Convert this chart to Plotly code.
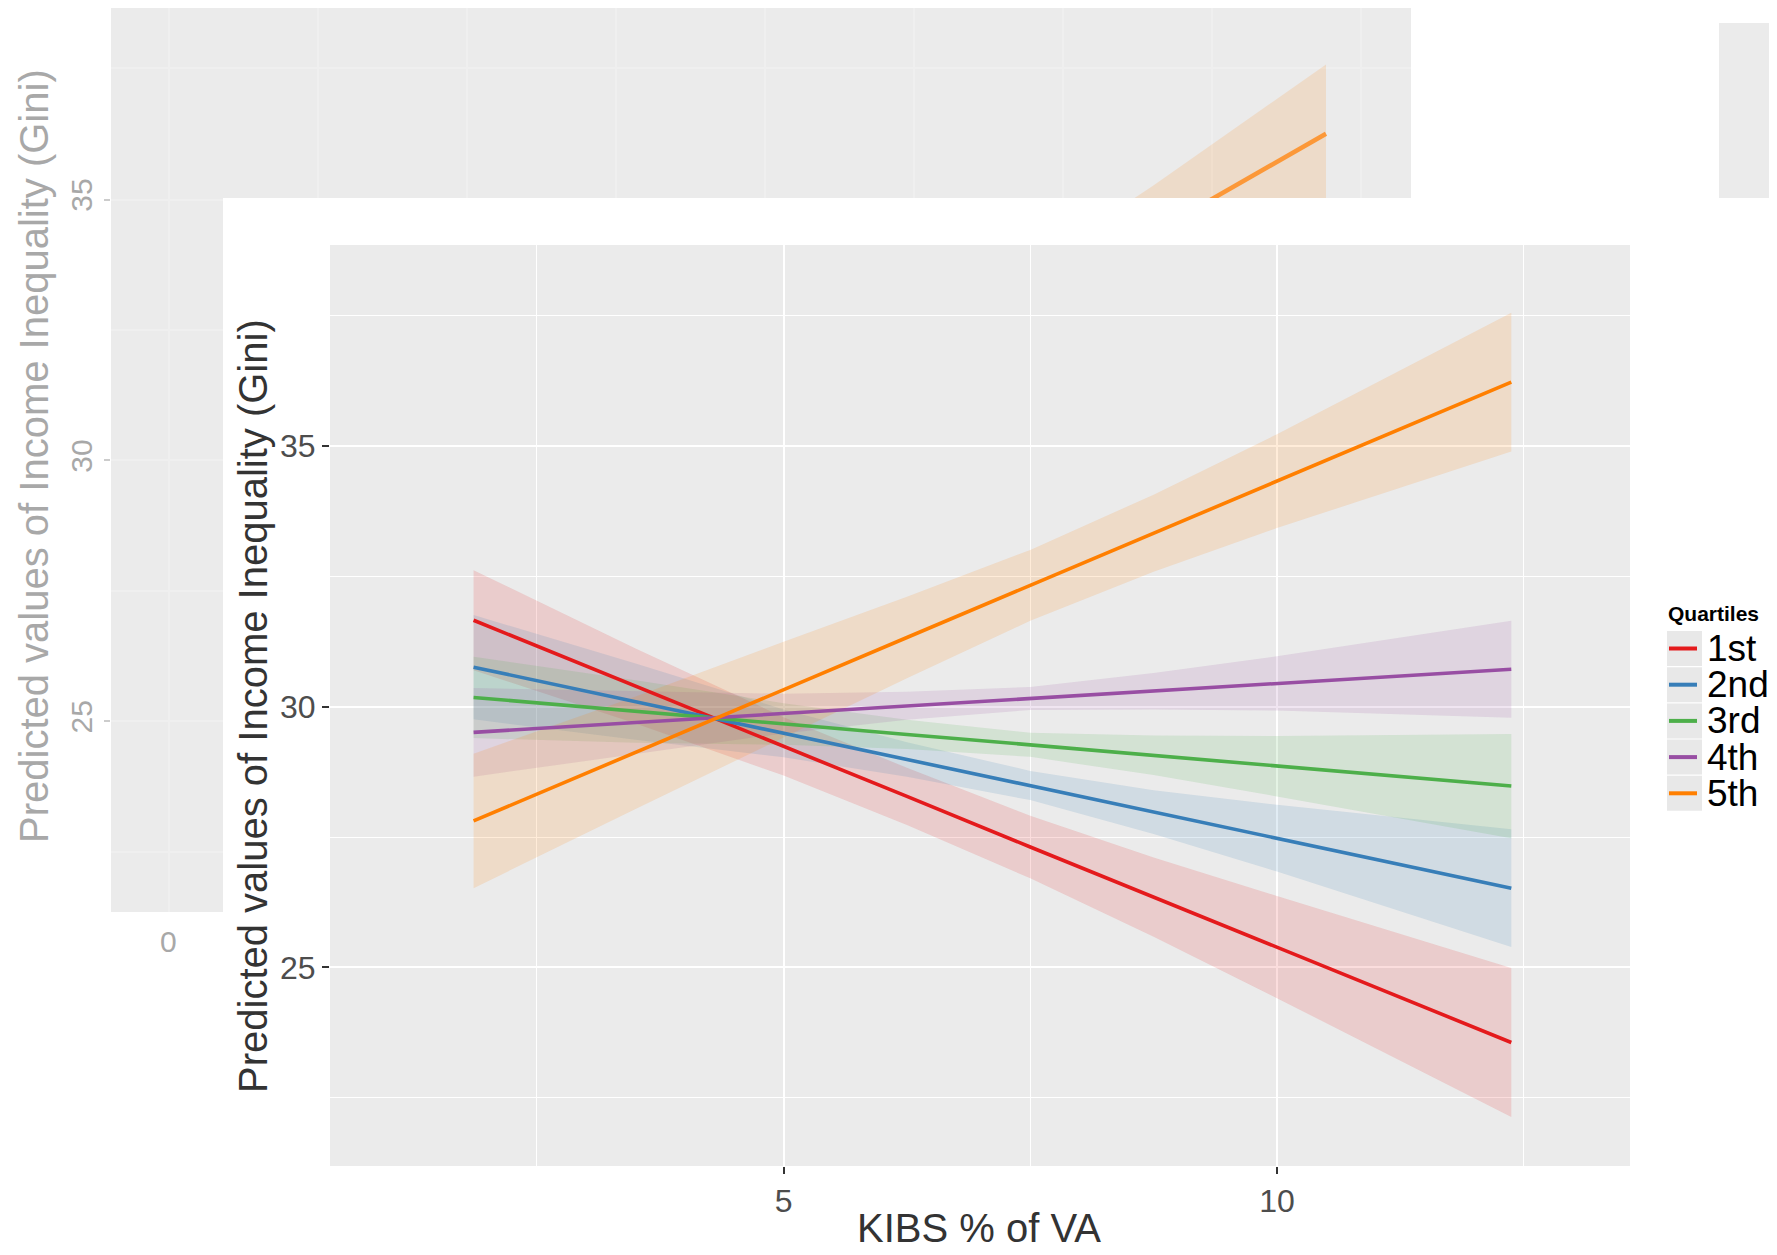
import plotly.graph_objects as go

# page body has an 8px margin; all pixel positions below are reference-image pixels
OFF = 8
W, H = 1777 - OFF, 1255 - OFF

# ---------------- data ----------------
x_pts = [1.858, 3.5, 5.0, 6.25, 7.5, 8.75, 10.0, 12.375]

series_names = ["1st", "2nd", "3rd", "4th", "5th"]
series_colors = ["#E41A1C", "#377EB8", "#4DAF4A", "#984EA3", "#FF7F00"]
series_fills = ["rgba(228,26,28,0.15)", "rgba(55,126,184,0.15)", "rgba(77,175,74,0.15)",
                "rgba(152,78,163,0.15)", "rgba(255,127,0,0.15)"]

fit_1st = [31.66, 30.40, 29.24, 28.28, 27.31, 26.35, 25.39, 23.56]
up_1st = [32.62, 31.12, 29.80, 28.83, 27.91, 27.11, 26.37, 24.99]
lo_1st = [30.70, 29.68, 28.68, 27.73, 26.71, 25.59, 24.41, 22.13]

fit_2nd = [30.76, 30.10, 29.49, 28.99, 28.49, 27.98, 27.48, 26.52]
up_2nd = [31.76, 30.83, 29.95, 29.32, 28.77, 28.40, 28.12, 27.65]
lo_2nd = [29.76, 29.37, 29.03, 28.66, 28.21, 27.56, 26.84, 25.39]

fit_3rd = [30.18, 29.91, 29.67, 29.47, 29.27, 29.07, 28.86, 28.48]
up_3rd = [30.96, 30.51, 30.07, 29.75, 29.50, 29.45, 29.44, 29.48]
lo_3rd = [29.40, 29.31, 29.27, 29.19, 29.04, 28.69, 28.28, 27.48]

fit_4th = [29.51, 29.70, 29.87, 30.02, 30.16, 30.30, 30.45, 30.72]
up_4th = [30.36, 30.30, 30.25, 30.29, 30.38, 30.65, 30.97, 31.65]
lo_4th = [28.66, 29.10, 29.49, 29.75, 29.94, 29.95, 29.93, 29.79]

fit_5th = [27.81, 29.12, 30.33, 31.33, 32.33, 33.33, 34.33, 36.23]
up_5th = [29.10, 30.20, 31.25, 32.11, 33.01, 34.07, 35.23, 37.56]
lo_5th = [26.52, 28.04, 29.41, 30.55, 31.65, 32.59, 33.43, 34.90]

fits = [fit_1st, fit_2nd, fit_3rd, fit_4th, fit_5th]
ups = [up_1st, up_2nd, up_3rd, up_4th, up_5th]
los = [lo_1st, lo_2nd, lo_3rd, lo_4th, lo_5th]

y_tick_vals = [25, 30, 35]
x_tick_vals = [5, 10]
x_title = "KIBS % of VA"
y_title = "Predicted values of Income Inequality (Gini)"
legend_title = "Quartiles"
bg_y_ticks = [25, 30, 35]
bg_x_tick_label = "0"

FONT = "Liberation Sans, Arial, sans-serif"


def px(xp):
    return min(1.0, max(0.0, (xp - OFF) / W))


def py(yp):
    return min(1.0, max(0.0, 1 - (yp - OFF) / H))


fig = go.Figure()

# ---------------- background (faded) chart pieces ----------------
fig.add_trace(go.Scatter(x=x_pts, y=lo_5th, mode="lines", line=dict(width=0, color=series_colors[4]),
                         xaxis="x2", yaxis="y2", showlegend=False, hoverinfo="skip"))
fig.add_trace(go.Scatter(x=x_pts, y=up_5th, mode="lines", line=dict(width=0, color=series_colors[4]),
                         fill="tonexty", fillcolor="rgba(255,127,0,0.14)",
                         xaxis="x2", yaxis="y2", showlegend=False, hoverinfo="skip"))
fig.add_trace(go.Scatter(x=x_pts, y=fit_5th, mode="lines", line=dict(width=4.5, color="rgba(255,135,20,0.8)"),
                         xaxis="x2", yaxis="y2", showlegend=False, hoverinfo="skip"))
# placeholder trace so the left strip subplot exists
fig.add_trace(go.Scatter(x=[None], y=[None], xaxis="x3", yaxis="y3", showlegend=False, hoverinfo="skip"))

# ---------------- main chart ----------------
for i in range(5):
    fig.add_trace(go.Scatter(x=x_pts, y=los[i], mode="lines", line=dict(width=0, color=series_colors[i]),
                             showlegend=False, hoverinfo="skip"))
    fig.add_trace(go.Scatter(x=x_pts, y=ups[i], mode="lines", line=dict(width=0, color=series_colors[i]),
                             fill="tonexty", fillcolor=series_fills[i], showlegend=False, hoverinfo="skip"))
for i in range(5):
    fig.add_trace(go.Scatter(x=x_pts, y=fits[i], mode="lines", name=series_names[i],
                             line=dict(width=3.6, color=series_colors[i]), showlegend=False))

# ---------------- layout ----------------
bg_px_per_unit = 73.0
bg_x_left = 12.375 - (1326 - 111) / bg_px_per_unit
bg_x_right_top = bg_x_left + (1411 - 111) / bg_px_per_unit
bg_x_right_left = bg_x_left + (223 - 111) / bg_px_per_unit
bg_tick0 = bg_x_left + (169 - 111) / bg_px_per_unit
bg_dtick = 149 / bg_px_per_unit
bg_y_px = 52.27

faint_grid = "#EFEFEF"

layout = dict(
    width=W, height=H,
    margin=dict(l=0, r=0, t=0, b=0, pad=0),
    paper_bgcolor="white",
    plot_bgcolor="#EBEBEB",
    showlegend=False,
    font=dict(family=FONT),
    xaxis=dict(
        domain=[px(330), px(1630)], anchor="y", range=[0.403, 13.578], automargin=False,
        tickmode="array", tickvals=x_tick_vals, ticks="outside", ticklen=7, tickwidth=1.5,
        tickcolor="#333333", tickfont=dict(size=32, color="#4D4D4D", family=FONT),
        showgrid=True, gridcolor="white", gridwidth=1.8, zeroline=False, showline=False,
        minor=dict(dtick=2.5, tick0=0, showgrid=True, gridcolor="white", gridwidth=0.9, ticks=""),
    ),
    yaxis=dict(
        domain=[py(1166), py(245)], anchor="x", range=[21.19, 38.86], automargin=False,
        tickmode="array", tickvals=y_tick_vals, ticks="outside", ticklen=7, tickwidth=1.5,
        tickcolor="#333333", tickfont=dict(size=32, color="#4D4D4D", family=FONT),
        showgrid=True, gridcolor="white", gridwidth=1.8, zeroline=False, showline=False,
        minor=dict(dtick=2.5, tick0=0, showgrid=True, gridcolor="white", gridwidth=0.9, ticks=""),
    ),
    xaxis2=dict(
        domain=[px(111), px(1411)], anchor="y2", range=[bg_x_left, bg_x_right_top], automargin=False,
        tick0=bg_tick0, dtick=bg_dtick, showticklabels=False, ticks="",
        showgrid=True, gridcolor=faint_grid, gridwidth=2, zeroline=False, showline=False,
    ),
    yaxis2=dict(
        domain=[py(198), 1.0], anchor="x2", automargin=False,
        range=[35.0, 35 + (198.3 - OFF) / bg_y_px],
        tick0=0, dtick=2.5, showticklabels=False, ticks="",
        showgrid=True, gridcolor=faint_grid, gridwidth=2, zeroline=False, showline=False,
    ),
    xaxis3=dict(
        domain=[px(111), px(223)], anchor="y3", range=[bg_x_left, bg_x_right_left], automargin=False,
        tick0=bg_tick0, dtick=bg_dtick, showticklabels=False, ticks="",
        showgrid=True, gridcolor=faint_grid, gridwidth=2, zeroline=False, showline=False,
    ),
    yaxis3=dict(
        domain=[py(912), py(198)], anchor="x3", automargin=False,
        range=[35 - (912 - 198.3) / bg_y_px, 35.03],
        tickmode="array", tickvals=bg_y_ticks, ticks="outside", ticklen=6, tickwidth=2,
        tickcolor="#CCCCCC", tickangle=-90,
        tickfont=dict(size=30, color="#A8A8A8", family=FONT),
        showgrid=True, gridcolor=faint_grid, gridwidth=2, zeroline=False, showline=False,
        minor=dict(dtick=2.5, tick0=0, showgrid=True, gridcolor=faint_grid, gridwidth=1.5, ticks=""),
    ),
)
fig.update_layout(**layout)

shapes = []
# top-right faded grey block of the background screenshot
shapes.append(dict(type="rect", xref="paper", yref="paper", x0=px(1719), x1=1.0, y0=py(198), y1=py(23),
                   fillcolor="#EBEBEB", line=dict(width=0), layer="below"))

# manual legend: key boxes and key lines
row_top = 631
row_h = 36.2
for i in range(5):
    y0 = row_top + i * row_h
    y1 = y0 + 35
    shapes.append(dict(type="rect", xref="paper", yref="paper", x0=px(1667), x1=px(1702),
                       y0=py(y1), y1=py(y0), fillcolor="#E8E8E8", line=dict(width=0)))
    yc = (y0 + y1) / 2
    shapes.append(dict(type="line", xref="paper", yref="paper", x0=px(1669), x1=px(1697),
                       y0=py(yc), y1=py(yc), line=dict(color=series_colors[i], width=4)))
fig.update_layout(shapes=shapes)

ann = []
ann.append(dict(text=x_title, xref="paper", yref="paper", x=px(979), y=py(1228),
                showarrow=False, font=dict(size=40, color="#333333", family=FONT),
                xanchor="center", yanchor="middle"))
ann.append(dict(text=y_title, xref="paper", yref="paper", x=px(253), y=py(706), textangle=-90,
                showarrow=False, font=dict(size=40, color="#333333", family=FONT),
                xanchor="center", yanchor="middle"))
# background (faded) chart texts
ann.append(dict(text=y_title, xref="paper", yref="paper", x=px(34), y=py(456), textangle=-90,
                showarrow=False, font=dict(size=40, color="#A8A8A8", family=FONT),
                xanchor="center", yanchor="middle"))
ann.append(dict(text=bg_x_tick_label, xref="paper", yref="paper", x=px(168), y=py(941),
                showarrow=False, font=dict(size=30, color="#A8A8A8", family=FONT),
                xanchor="center", yanchor="middle"))
# legend texts
ann.append(dict(text="<b>" + legend_title + "</b>", xref="paper", yref="paper", x=px(1666), y=py(613),
                showarrow=False, font=dict(size=21, color="black", family=FONT),
                xanchor="left", yanchor="middle"))
for i in range(5):
    yc = row_top + i * row_h + 17.5
    ann.append(dict(text=series_names[i], xref="paper", yref="paper", x=px(1705), y=py(yc),
                    showarrow=False, font=dict(size=37, color="black", family=FONT),
                    xanchor="left", yanchor="middle"))
fig.update_layout(annotations=ann)

fig.write_html("out.html")
